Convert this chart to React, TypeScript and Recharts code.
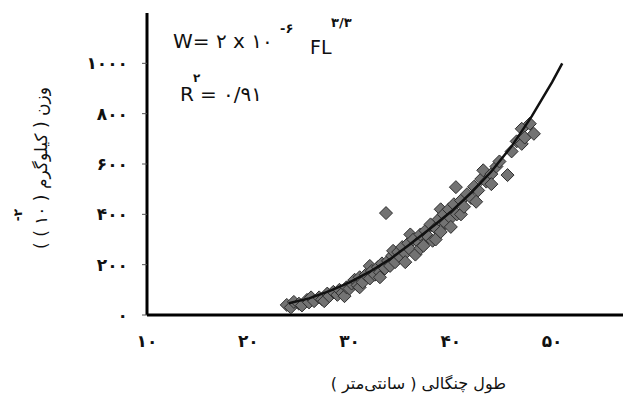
import { ComposedChart, Scatter, XAxis, YAxis, Label } from "recharts";

const lengthCm = [
  23.8, 24.2, 24.5, 25, 25.3, 25.8, 26, 26.2, 26.5, 27, 27.3, 27.5, 27.8, 28, 28.4,
  28.8, 29, 29.3, 29.5, 29.7, 30, 30.2, 30.5, 30.8, 31, 31, 31.3, 31.6, 32, 32, 32.2,
  32.5, 32.8, 33, 33, 33.2, 33.5, 33.6, 33.8, 34, 34.2, 34.3, 34.5, 34.8, 35, 35.2,
  35.5, 35.5, 35.8, 36, 36, 36.3, 36.5, 36.8, 37, 37, 37.3, 37.5, 37.8, 38, 38.2,
  38.5, 38.5, 38.8, 39, 39, 39.3, 39.5, 39.8, 40, 40, 40.3, 40.5, 40.6, 41, 41,
  41.3, 41.6, 42, 42.3, 42.5, 42.7, 43, 43.2, 43.5, 44, 44, 44.5, 44.8, 45.6, 46,
  46.5, 47, 47, 47.3, 47.8, 48.2,
];
const weight = [
  40, 30, 52, 45, 38, 60, 50, 70, 55, 70, 62, 55, 85, 75, 92,
  80, 100, 88, 75, 110, 105, 125, 140, 118, 150, 110, 130, 160, 145, 195, 175,
  160, 190, 170, 150, 205, 185, 405, 215, 195, 235, 255, 210, 250, 230, 270,
  245, 210, 285, 260, 320, 300, 240, 290, 320, 265, 275, 335, 310, 360, 295,
  345, 300, 380, 330, 420, 400, 365, 420, 385, 350, 440, 508, 400, 455, 400,
  430, 480, 465, 510, 450, 495, 540, 575, 530, 560, 520, 590, 610, 556, 650,
  690, 740, 680, 705, 760, 720,
];

// fitted curve W = 2x10^-6 FL^3.3, as drawn
const curveLength = [24, 26, 28, 30, 32, 34, 36, 38, 40, 42, 44, 46, 48, 50, 51];
const curveWeight = [47, 66, 95, 130, 172, 222, 282, 345, 410, 485, 570, 670, 790, 925, 1000];

const xTicks = [10, 20, 30, 40, 50];
const yTicks = [0, 200, 400, 600, 800, 1000];

const points = lengthCm.map((fl, i) => ({ fl, w: weight[i] }));
const curve = curveLength.map((fl, i) => ({ fl, w: curveWeight[i] }));

const fa = (v: number | string) =>
  String(v).replace(/\d/g, (d) => "۰۱۲۳۴۵۶۷۸۹"[Number(d)]);

const font = "'DejaVu Sans', 'Noto Sans', sans-serif";

const Diamond = (props: any) => {
  const { cx, cy } = props;
  const r = 6.5;
  return (
    <path
      d={`M${cx},${cy - r}L${cx + r},${cy}L${cx},${cy + r}L${cx - r},${cy}Z`}
      fill="#737373"
      stroke="#2e2e2e"
      strokeWidth={1}
    />
  );
};

const tickStyle = { fontSize: 17, fill: "#111", fontFamily: font, fontWeight: 700, letterSpacing: 1.5 };

export default function App() {
  return (
    <div style={{ position: "absolute", left: 0, top: 0, width: 625, height: 398, background: "#fff", fontFamily: font }}>
      <ComposedChart
        width={625}
        height={398}
        margin={{ top: 13, right: 2, bottom: 0, left: 0 }}
      >
        <XAxis
          type="number"
          dataKey="fl"
          domain={[10, 57]}
          ticks={xTicks}
          tickFormatter={fa}
          tickLine={false}
          tickSize={0}
          tickMargin={20}
          height={83}
          axisLine={{ stroke: "#000", strokeWidth: 3 }}
          tick={tickStyle}
        >
          <Label
            content={({ viewBox }: any) => (
              <text
                x={viewBox.x + viewBox.width * 0.57}
                y={viewBox.y + 74}
                textAnchor="middle"
                fontSize={16}
                fill="#111"
                fontFamily={font}
              >
                طول چنگالی ( سانتی‌متر )
              </text>
            )}
          />
        </XAxis>
        <YAxis
          type="number"
          dataKey="w"
          domain={[0, 1200]}
          ticks={yTicks}
          tickFormatter={fa}
          width={147}
          tickSize={5}
          tickMargin={14}
          axisLine={{ stroke: "#000", strokeWidth: 3 }}
          tickLine={{ stroke: "#555" }}
          tick={tickStyle}
        >
          <Label
            content={({ viewBox }: any) => {
              const x = viewBox.x + 47;
              const y = viewBox.y + 155;
              return (
                <g fontFamily={font} fill="#111">
                  <text x={x} y={y} transform={`rotate(-90 ${x} ${y})`} textAnchor="middle" fontSize={17}>
                    وزن ( کیلوگرم ( ۱۰ ) )
                  </text>
                  <text x={x - 25} y={y + 47} transform={`rotate(-90 ${x - 25} ${y + 47})`} textAnchor="middle" fontSize={12} fontWeight={700}>
                    -۲
                  </text>
                </g>
              );
            }}
          />
        </YAxis>
        <Scatter data={points} dataKey="w" shape={Diamond} isAnimationActive={false} />
        <Scatter
          data={curve}
          dataKey="w"
          shape={() => <g />}
          line={{ stroke: "#111", strokeWidth: 2.5 }}
          isAnimationActive={false}
        />
      </ComposedChart>
      <svg
        width={625}
        height={398}
        style={{ position: "absolute", left: 0, top: 0, pointerEvents: "none" }}
        fontFamily={font}
        fill="#111"
      >
        <text x={173} y={48} fontSize={20}>W= ۲ x ۱۰</text>
        <text x={280} y={33} fontSize={13} fontWeight={700}>-۶</text>
        <text x={310} y={54} fontSize={19}>FL</text>
        <text x={331} y={27} fontSize={13} fontWeight={700}>۳/۳</text>
        <text x={180} y={101} fontSize={20}>R</text>
        <text x={193} y={82} fontSize={12} fontWeight={700}>۲</text>
        <text x={200} y={101} fontSize={20}>= ۰/۹۱</text>
      </svg>
    </div>
  );
}
